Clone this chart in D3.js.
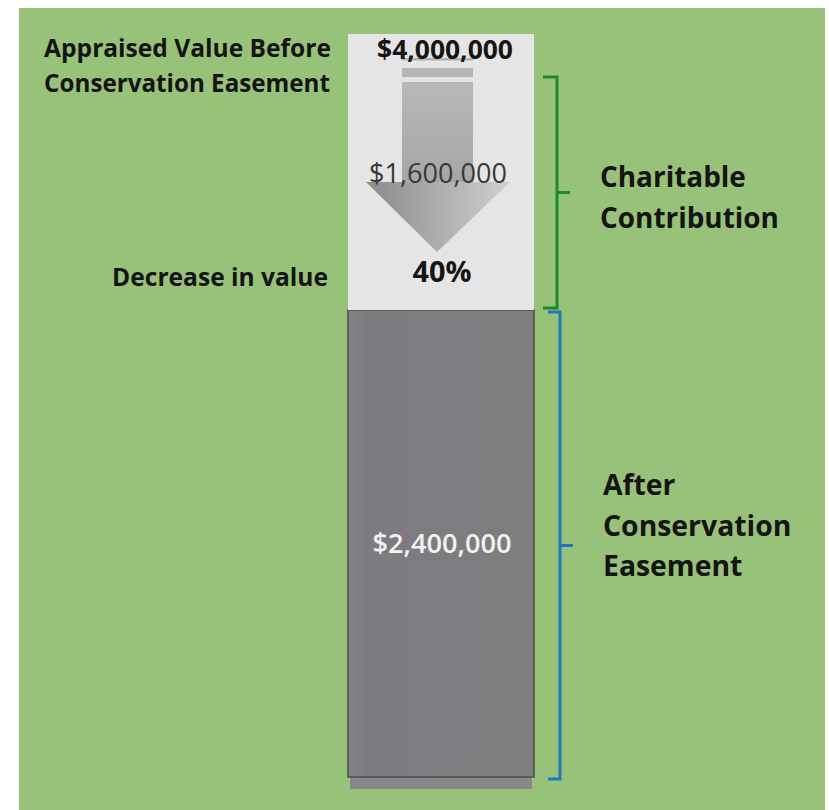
<!DOCTYPE html>
<meta charset="utf-8">
<script src="https://d3js.org/d3.v7.min.js"></script>
<style>
  body { margin: 0; background: #fff; }
  text { font-family: "Open Sans", Lato, sans-serif; }
</style>
<svg id="chart" width="829" height="810"></svg>
<script>
  // values
  const totalValue = 4000000;
  const segmentNames = ["After Conservation Easement", "Charitable Contribution"];
  const segmentValues = [2400000, 1600000];
  const segmentLabels = [["After", "Conservation", "Easement"], ["Charitable", "Contribution"]];
  const leftLabels = [["Appraised Value Before", "Conservation Easement"], ["Decrease in value"]];
  const decreasePct = 0.40;

  const svg = d3.select("#chart");
  const fmt = d3.format("$,.0f");

  // shrink/grow a text so it spans the width it has in the picture
  function fit(sel, w) {
    const t = sel.node();
    const fs = parseFloat(sel.attr("font-size"));
    const len = t.getComputedTextLength();
    sel.attr("font-size", (fs * w / len).toFixed(2));
    return sel;
  }

  // green panel
  svg.append("rect").attr("x", 19).attr("y", 8).attr("width", 806).attr("height", 802)
    .attr("fill", "#98c279");

  // vertical value scale (the picture is not drawn to scale, so polylinear)
  const y = d3.scaleLinear()
    .domain([0, segmentValues[0], totalValue])
    .range([777, 310, 34]);

  const barX = 348, barW = 186, arrowCx = 437;

  const defs = svg.append("defs");
  const g1 = defs.append("linearGradient").attr("id", "head").attr("x1", 0).attr("x2", 1).attr("y1", 0).attr("y2", 0);
  g1.append("stop").attr("offset", 0).attr("stop-color", "#8a8a8a");
  g1.append("stop").attr("offset", 1).attr("stop-color", "#d0d0d0");
  const g2 = defs.append("linearGradient").attr("id", "shaft").attr("x1", 0).attr("x2", 0).attr("y1", 0).attr("y2", 1);
  g2.append("stop").attr("offset", 0).attr("stop-color", "#b8b8b8");
  g2.append("stop").attr("offset", 1).attr("stop-color", "#a6a6a6");
  const g3 = defs.append("linearGradient").attr("id", "dark").attr("x1", 0).attr("x2", 1).attr("y1", 0).attr("y2", 0);
  g3.append("stop").attr("offset", 0).attr("stop-color", "#868488");
  g3.append("stop").attr("offset", 0.1).attr("stop-color", "#7d7b7f");
  g3.append("stop").attr("offset", 1).attr("stop-color", "#7f7d80");

  // shadow under the bar
  svg.append("rect").attr("x", barX + 2).attr("y", y(0)).attr("width", barW - 4).attr("height", 12)
    .attr("fill", "#8a878b");

  // stacked bar
  const stack = [
    { y0: 0, y1: segmentValues[0], fill: "url(#dark)", stroke: "#4d4d4d" },
    { y0: segmentValues[0], y1: totalValue, fill: "#e5e5e5", stroke: "none" }
  ];
  svg.selectAll("rect.seg").data(stack).enter().append("rect")
    .attr("class", "seg")
    .attr("x", barX)
    .attr("y", d => y(d.y1))
    .attr("width", barW)
    .attr("height", d => y(d.y0) - y(d.y1))
    .attr("fill", d => d.fill)
    .attr("stroke", d => d.stroke)
    .attr("stroke-width", 1.5);

  // decrease arrow
  const shaftL = arrowCx - 35, shaftR = arrowCx + 36;
  svg.append("rect").attr("x", shaftL).attr("y", 58).attr("width", shaftR - shaftL).attr("height", 2.5).attr("fill", "#b0b0b0");
  svg.append("rect").attr("x", shaftL).attr("y", 68).attr("width", shaftR - shaftL).attr("height", 9).attr("fill", "#b6b6b6");
  svg.append("rect").attr("x", shaftL).attr("y", 82).attr("width", shaftR - shaftL).attr("height", 101).attr("fill", "url(#shaft)");
  svg.append("path")
    .attr("d", `M${arrowCx - 71},182 L${arrowCx + 73},182 L${arrowCx},252 Z`)
    .attr("fill", "url(#head)");

  // labels in the bar
  fit(svg.append("text").attr("x", 445).attr("y", 59).attr("text-anchor", "middle")
    .attr("font-size", 22).attr("font-weight", 700).attr("fill", "#151515")
    .text(fmt(totalValue)), 136);
  fit(svg.append("text").attr("x", 438).attr("y", 183).attr("text-anchor", "middle")
    .attr("font-size", 22).attr("font-weight", 400).attr("fill", "#383838")
    .text(fmt(segmentValues[1])), 138);
  fit(svg.append("text").attr("x", 442).attr("y", 282).attr("text-anchor", "middle")
    .attr("font-size", 22).attr("font-weight", 700).attr("fill", "#151515")
    .text(d3.format(".0%")(decreasePct)), 59);
  fit(svg.append("text").attr("x", 442).attr("y", 553).attr("text-anchor", "middle")
    .attr("font-size", 22).attr("font-weight", 600).attr("fill", "#f2f2f2")
    .text(fmt(segmentValues[0])), 139);

  // left labels
  const left = svg.append("g").attr("font-weight", 700).attr("fill", "#141414")
    .attr("text-anchor", "end");
  const leftSpec = [
    { text: leftLabels[0][0], x: 331, y: 57, w: 287 },
    { text: leftLabels[0][1], x: 330, y: 92, w: 286 },
    { text: leftLabels[1][0], x: 328, y: 286, w: 216 }
  ];
  leftSpec.forEach(s => fit(left.append("text").attr("x", s.x).attr("y", s.y)
    .attr("font-size", 22).text(s.text), s.w));

  // brackets
  const brackets = [
    { top: y(totalValue) + 43, bot: y(segmentValues[0]) - 2, x: 557, hook: 14, color: "#1c8a2c",
      lines: segmentLabels[1], lineY: 187, widths: [145, 180] },
    { top: y(segmentValues[0]) + 2, bot: y(0) + 2, x: 560, hook: 12, color: "#1f78c2",
      lines: segmentLabels[0], lineY: 495, widths: [72, 189, 140] }
  ];
  brackets.forEach(b => {
    const mid = (b.top + b.bot) / 2;
    svg.append("path")
      .attr("d", `M${b.x - b.hook},${b.top} H${b.x} V${b.bot} H${b.x - b.hook} M${b.x},${mid} H${b.x + 13}`)
      .attr("fill", "none").attr("stroke", b.color).attr("stroke-width", 3);
    const g = svg.append("g").attr("font-weight", 700).attr("fill", "#141414");
    const fs = [];
    b.lines.forEach((line, i) => {
      const t = g.append("text").attr("x", b.x + 43).attr("y", b.lineY + i * 40.5)
        .attr("font-size", 24).text(line);
      fit(t, b.widths[i]);
      fs.push(+t.attr("font-size"));
    });
    // one size for the whole block
    g.selectAll("text").attr("font-size", d3.mean(fs).toFixed(2));
  });
</script>
